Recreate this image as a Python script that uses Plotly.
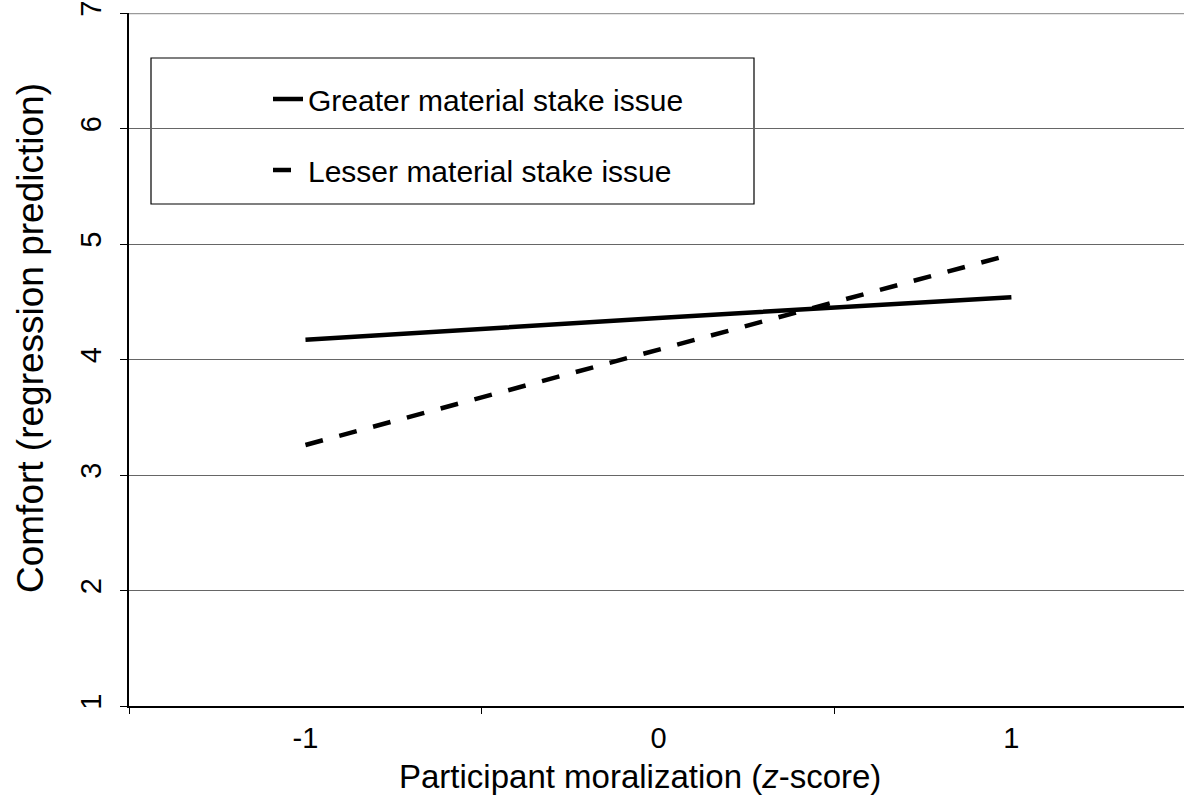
import plotly.graph_objects as go

categories = ["-1", "0", "1"]
greater_stake = [4.17, 4.36, 4.54]
lesser_stake = [3.26, 4.08, 4.91]
series_names = ["Greater material stake issue", "Lesser material stake issue"]
y_ticks = [1, 2, 3, 4, 5, 6, 7]
x_title = "Participant moralization (<i>z</i>-score)"
y_title = "Comfort (regression prediction)"

FONT = "Liberation Sans, Arial, sans-serif"

L, T, W, H = 129, 13, 1055, 693


def px_x(p):
    return (p - L) / W


def px_y(p):
    return 1 - (p - T) / H


fig = go.Figure()
fig.add_trace(go.Scatter(
    x=categories, y=greater_stake, mode="lines", name=series_names[0],
    line=dict(color="black", width=4.5), legendgroup="a"))
fig.add_trace(go.Scatter(
    x=categories, y=lesser_stake, mode="lines", name=series_names[1],
    line=dict(color="black", width=4.5, dash="18px,17px"), legendgroup="b"))

fig.update_layout(
    width=1184, height=801,
    margin=dict(l=L, r=0, t=T, b=801 - T - H),
    paper_bgcolor="white", plot_bgcolor="white",
    font=dict(family=FONT, size=29, color="black"),
    showlegend=True,
    legend=dict(
        x=px_x(268), y=px_y(73), xanchor="left", yanchor="top",
        bgcolor="rgba(0,0,0,0)", borderwidth=0,
        font=dict(family=FONT, size=30, color="black"),
        tracegroupgap=29, itemwidth=30,
    ),
    xaxis=dict(
        type="category", categoryorder="array", categoryarray=categories,
        range=[-0.5, 2.489], tickson="boundaries", ticks="outside", ticklen=6,
        tickcolor="black", showline=True, linecolor="black", linewidth=1.5,
        showgrid=False, zeroline=False, ticklabelstandoff=5,
        tickfont=dict(family=FONT, size=29),
    ),
    yaxis=dict(
        range=[1, 7], tickvals=y_ticks, ticks="outside", ticklen=7,
        tickcolor="black", tickangle=-90, ticklabelstandoff=8,
        showline=True, linecolor="black", linewidth=1.5,
        showgrid=True, gridcolor="#666666", gridwidth=1, zeroline=False,
        tickfont=dict(family=FONT, size=29),
    ),
    annotations=[
        dict(text=x_title, xref="paper", yref="paper", x=px_x(640), y=px_y(777),
             xanchor="center", yanchor="middle", showarrow=False,
             font=dict(family=FONT, size=33, color="black")),
        dict(text=y_title, xref="paper", yref="paper", x=px_x(30), y=px_y(338),
             xanchor="center", yanchor="middle", showarrow=False, textangle=-90,
             font=dict(family=FONT, size=37, color="black")),
    ],
    shapes=[
        dict(type="line", xref="paper", yref="y", x0=0, x1=1, y0=7, y1=7,
             line=dict(color="#9a9a9a", width=2.5)),
        dict(type="rect", xref="paper", yref="paper",
             x0=px_x(151), x1=px_x(754), y0=px_y(204), y1=px_y(58),
             line=dict(color="black", width=1.2), fillcolor="white", layer="below"),
    ],
)

fig.write_html("out.html", config={"displayModeBar": False},
               post_script="document.body.style.margin='0';")
